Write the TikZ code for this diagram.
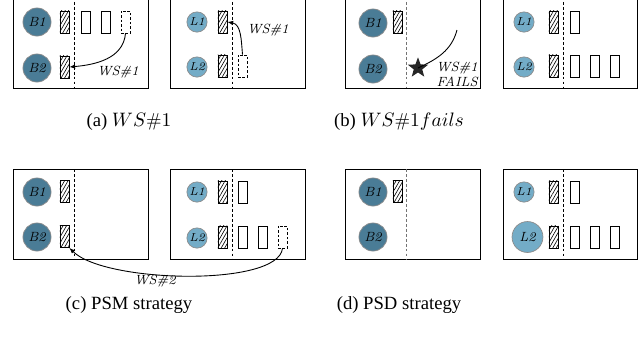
\documentclass[tikz,border=0pt]{standalone}
\usepackage{fontspec}
\newfontfamily\capfont{Liberation Serif}
\usetikzlibrary{patterns.meta,shapes.geometric,arrows.meta}
\definecolor{bcol}{RGB}{74,124,150}
\definecolor{lcol}{RGB}{115,172,199}
\tikzset{
  frame/.style={draw=black,line width=0.5pt},
  sep/.style={draw=black,dashed,line width=0.45pt,dash pattern=on 1.6pt off 1.2pt},
  gsep/.style={sep,draw=black!55},
  bball/.style={circle,draw=black!45,line width=0.4pt,fill=bcol,minimum size=15.8pt,inner sep=0pt,
    font=\fontsize{7.5}{8}\selectfont\itshape},
  lball/.style={circle,draw=black!45,line width=0.4pt,fill=lcol,minimum size=11.4pt,inner sep=0pt,
    font=\fontsize{6.5}{7}\selectfont\itshape},
  bigball/.style={lball,minimum size=17.4pt,font=\fontsize{7.5}{8}\selectfont\itshape},
  hatchbox/.style={rectangle,draw=black,line width=0.45pt,
    pattern={Lines[angle=60,distance=1.7pt,line width=0.35pt]},
    minimum width=5.1pt,minimum height=12.4pt,inner sep=0pt},
  slot/.style={rectangle,draw=black,line width=0.45pt,minimum width=5.1pt,minimum height=12.4pt,inner sep=0pt},
  dslot/.style={slot,dashed,dash pattern=on 1.5pt off 1pt},
  wslabel/.style={font=\fontsize{7.5}{9}\selectfont\itshape,inner sep=0pt},
  flow/.style={draw=black,line width=0.5pt,-{Latex[length=3.2pt,width=2.6pt]}},
  caption/.style={font=\capfont\fontsize{10.5}{12}\selectfont,inner sep=0pt}
}
\begin{document}
\begin{tikzpicture}[x=0.5625pt,y=-0.5625pt]
\useasboundingbox (0,0) rectangle (641,341);
\begin{scope}
\clip (0,0) rectangle (641,341);

% ---------------- (a) ----------------
\draw[frame] (13,-3) rectangle (148,88);
\draw[sep] (74,-3) -- (74,88);
\node[bball] (aB1) at (37,22) {B1};
\node[bball] (aB2) at (37,68) {B2};
\node[hatchbox] (aH1) at (64.5,22) {};
\node[hatchbox] (aH2) at (64.5,67) {};
\node[slot] (aS1) at (85.5,22) {};
\node[slot] (aS2) at (105.5,22) {};
\node[dslot] (aS3) at (125.5,22) {};
\draw[flow] (aS3.south) to[out=-95,in=5] (aH2.east);
\node[wslabel] (aW) at (118,72) {WS\#1};

\draw[frame] (170,-3) rectangle (305,88);
\draw[sep] (232,-3) -- (232,88);
\node[lball] (aL1) at (197,22) {L1};
\node[lball] (aL2) at (197,67) {L2};
\node[hatchbox] (aG1) at (222.5,22) {};
\node[hatchbox] (aG2) at (222.5,66) {};
\node[dslot] (aT1) at (242.5,66) {};
\draw[flow] (aT1.north) to[out=95,in=-10] (aG1.east);
\node[wslabel] (aV) at (268,30) {WS\#1};

\node[caption] (capa) at (129,122) {(a) $WS\#1$};

% ---------------- (b) ----------------
\draw[frame] (345,-3) rectangle (480,88);
\draw[gsep] (406,-3) -- (406,88);
\node[bball] (bB1) at (373,23) {B1};
\node[bball] (bB2) at (373,69) {B2};
\node[hatchbox] (bH1) at (397.5,22) {};
\node[star,star points=5,star point ratio=2.4,fill=black!85,draw=none,minimum size=12pt,inner sep=0pt] (bX) at (418,68) {};
\coordinate (bC) at (457,30);
\draw[draw=black,line width=0.5pt] (bC) to[out=-105,in=25] (bX.center);
\node[wslabel,align=right,anchor=east,font=\fontsize{7.5}{8.5}\selectfont\itshape] (bW) at (478,74) {WS\#1\\FAILS};

\draw[frame] (503,-3) rectangle (637,88);
\draw[sep] (563,-3) -- (563,88);
\node[lball] (bL1) at (524,22) {L1};
\node[lball] (bL2) at (524,67) {L2};
\node[hatchbox] (bG1) at (553.5,22) {};
\node[hatchbox] (bG2) at (553.5,66) {};
\node[slot] (bT1) at (574.5,22) {};
\node[slot] (bT2) at (574.5,66) {};
\node[slot] (bT3) at (594.5,66) {};
\node[slot] (bT4) at (614.5,66) {};

\node[caption] (capb) at (399,122) {(b) $WS\#1fails$};

% ---------------- (c) ----------------
\draw[frame] (13,169) rectangle (148,259);
\draw[sep] (74,169) -- (74,259);
\node[bball] (cB1) at (37,192) {B1};
\node[bball] (cB2) at (37,237) {B2};
\node[hatchbox] (cH1) at (64.5,191.5) {};
\node[hatchbox] (cH2) at (64.5,236.5) {};

\draw[frame] (170,169) rectangle (305,259);
\draw[sep] (232,169) -- (232,259);
\node[lball] (cL1) at (197,192) {L1};
\node[lball] (cL2) at (197,238) {L2};
\node[hatchbox] (cG1) at (222.5,192) {};
\node[hatchbox] (cG2) at (222.5,237) {};
\node[slot] (cT1) at (242.5,192) {};
\node[slot] (cT2) at (242.5,237) {};
\node[slot] (cT3) at (262.5,237) {};
\node[dslot] (cT4) at (282.5,237) {};
\draw[flow] (cT4.south) .. controls (278,287) and (105,283) .. (cH2.south east);
\node[wslabel] (cW) at (155,281) {WS\#2};

\node[caption] (capc) at (129,305) {(c) PSM strategy};

% ---------------- (d) ----------------
\draw[frame] (345,169) rectangle (480,259);
\draw[gsep] (406,169) -- (406,259);
\node[bball] (dB1) at (373,192) {B1};
\node[bball] (dB2) at (373,237) {B2};
\node[hatchbox] (dH1) at (397.5,191.5) {};

\draw[frame] (503,169) rectangle (637,259);
\draw[sep] (563,169) -- (563,259);
\node[lball] (dL1) at (524,192) {L1};
\node[bigball] (dL2) at (527.5,237) {L2};
\node[hatchbox] (dG1) at (553.5,192) {};
\node[hatchbox] (dG2) at (553.5,237) {};
\node[slot] (dT1) at (574.5,192) {};
\node[slot] (dT2) at (574.5,237) {};
\node[slot] (dT3) at (594.5,237) {};
\node[slot] (dT4) at (614.5,237) {};

\node[caption] (capd) at (399,305) {(d) PSD strategy};
\end{scope}
\end{tikzpicture}
\end{document}
